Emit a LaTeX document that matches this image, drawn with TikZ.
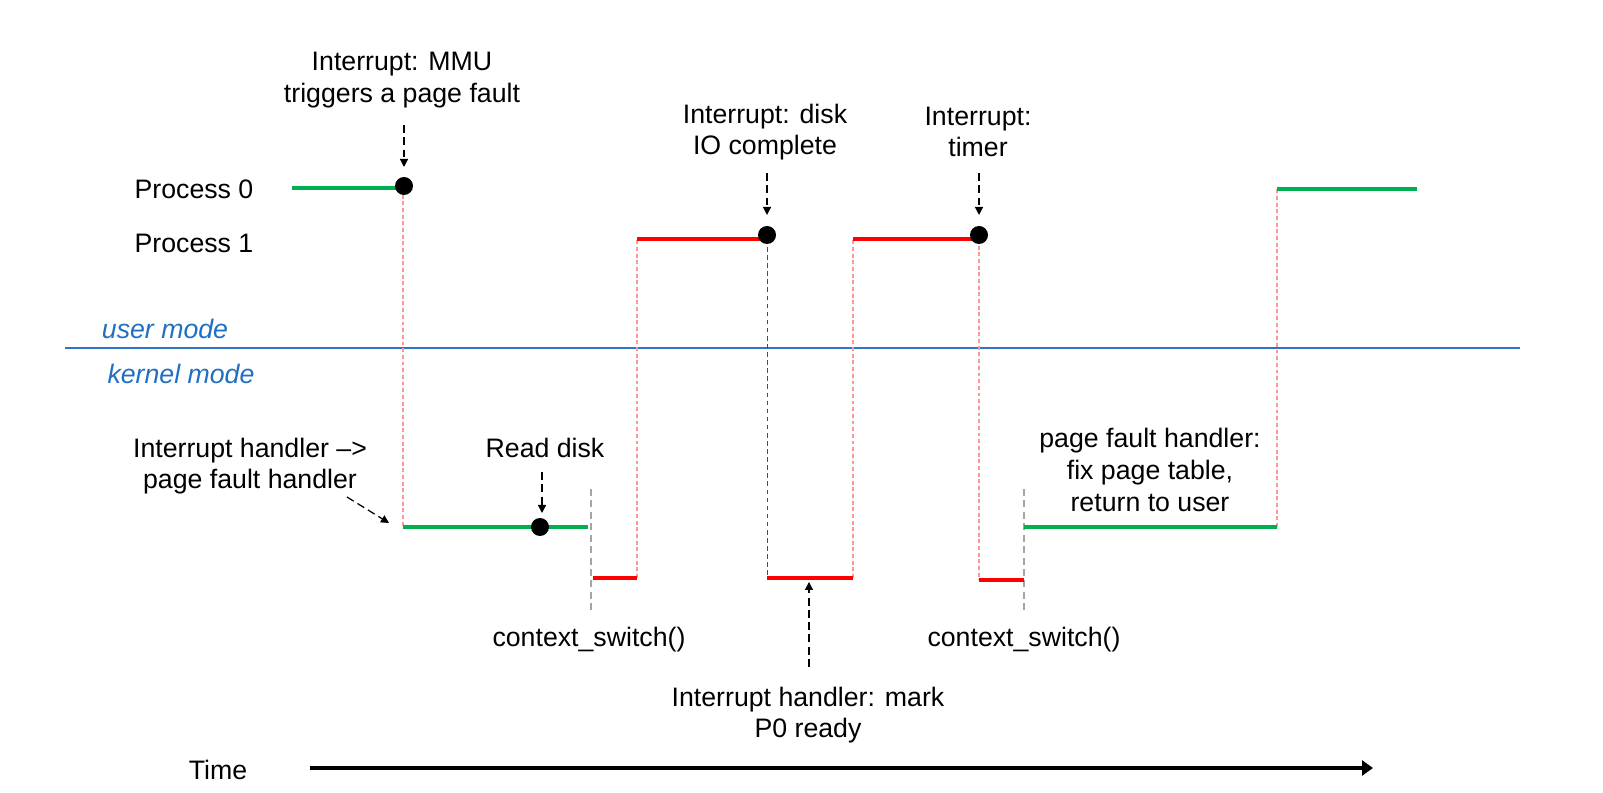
\documentclass[tikz,border=0pt]{standalone}
\usepackage{fontspec}
\setmainfont{Liberation Sans}
\usetikzlibrary{arrows.meta}
\definecolor{pgreen}{RGB}{0,176,80}
\definecolor{pred}{RGB}{255,0,0}
\definecolor{ppink}{RGB}{255,150,150}
\definecolor{pblue}{RGB}{46,117,200}
\definecolor{tblue}{RGB}{31,112,193}
\definecolor{pgrey}{RGB}{165,165,165}
\tikzset{
  lbl/.style={align=center,font=\fontsize{15.2}{18}\selectfont,inner sep=0pt},
  modelbl/.style={font=\fontsize{15.2}{18}\selectfont\itshape,text=tblue,inner sep=0pt},
  runline/.style={line width=2.3pt},
  pinkdash/.style={draw=ppink,line width=0.6pt,dash pattern=on 2.2pt off 1.6pt},
  reddash/.style={draw=pred,line width=0.5pt,dash pattern=on 2.6pt off 2pt},
  greydash/.style={draw=pgrey,line width=0.6pt,dash pattern=on 4pt off 2.5pt},
  callarrow/.style={line width=0.7pt,dash pattern=on 4.5pt off 2.5pt,-{Triangle[length=0.16cm,width=0.16cm]}},
  dot/.style={circle,fill=black,inner sep=0pt,minimum size=0.36cm},
}
\begin{document}
\begin{tikzpicture}[x=0.02cm,y=-0.02cm]
\useasboundingbox (0,0) rectangle (1603,793);
% coordinates of the timeline
\coordinate (a0) at (292,188);
\coordinate (a1) at (403,188);
\coordinate (b0) at (403,527);
\coordinate (b1) at (588,527);
\coordinate (c0) at (593,578);
\coordinate (c1) at (637,578);
\coordinate (d0) at (637,239);
\coordinate (d1) at (767,239);
\coordinate (e0) at (767,578);
\coordinate (e1) at (853,578);
\coordinate (f0) at (853,239);
\coordinate (f1) at (979,239);
\coordinate (g0) at (979,580);
\coordinate (g1) at (1024,580);
\coordinate (h0) at (1024,527);
\coordinate (h1) at (1277,527);
\coordinate (i0) at (1277,189);
\coordinate (i1) at (1417,189);
\coordinate (cs1t) at (591,489);
\coordinate (cs1b) at (591,613);
\coordinate (cs2t) at (1024,489);
\coordinate (cs2b) at (1024,613);
\coordinate (ul) at (65,348);
\coordinate (ur) at (1520,348);

% mode separator
\draw[pblue,line width=1.1pt] (ul) -- (ur);
\node[modelbl] (user) at (165,329) {user mode};
\node[modelbl] (kern) at (181,374) {kernel mode};

% transitions
\draw[pinkdash] (a1) -- (b0);
\draw[pinkdash] (c1) -- (d0);
\draw[reddash] (d1) -- (e0);
\draw[pinkdash] (e1) -- (f0);
\draw[pinkdash] (f1) -- (g0);
\draw[pinkdash] (h1) -- (i0);
\draw[greydash] (cs1t) -- (cs1b);
\draw[greydash] (cs2t) -- (cs2b);

% running segments
\draw[runline,pgreen] (a0) -- (a1);
\draw[runline,pgreen] (b0) -- (b1);
\draw[runline,pred] (c0) -- (c1);
\draw[runline,pred] (d0) -- (d1);
\draw[runline,pred] (e0) -- (e1);
\draw[runline,pred] (f0) -- (f1);
\draw[runline,pred] (g0) -- (g1);
\draw[runline,pgreen] (h0) -- (h1);
\draw[runline,pgreen] (i0) -- (i1);

% events
\node[dot] (mmu) at (404,186) {};
\node[dot] (disk) at (767,235) {};
\node[dot] (timer) at (979,235) {};
\node[dot] (rd) at (540,527) {};

% labels
\node[lbl] (p0) at (194,189) {Process 0};
\node[lbl] (p1) at (194,243) {Process 1};
\node[lbl] (tmmu) at (402,80) {Interrupt: MMU\\triggers a page fault};
\node[lbl] (tdisk) at (765,132) {Interrupt: disk\\IO complete};
\node[lbl] (ttimer) at (978,132) {Interrupt:\\timer};
\node[lbl] (trd) at (545,448) {Read disk};
\node[lbl] (thand) at (250,466) {Interrupt handler –>\\page fault handler};
\node[lbl] (tpfh) at (1150,470) {page fault handler:\\fix page table,\\return to user};
\node[lbl] (tcs1) at (589,640) {context\_switch()};
\node[lbl] (tcs2) at (1024,640) {context\_switch()};
\node[lbl] (tmark) at (808,715) {Interrupt handler: mark\\P0 ready};
\node[lbl] (ttime) at (218,770) {Time};

% call-out arrows
\coordinate (m0) at (404,125);
\coordinate (m1) at (404,167);
\draw[callarrow] (m0) -- (m1);
\coordinate (k0) at (767,173);
\coordinate (k1) at (767,215);
\draw[callarrow] (k0) -- (k1);
\coordinate (t0) at (979,173);
\coordinate (t1) at (979,215);
\draw[callarrow] (t0) -- (t1);
\coordinate (r0) at (542,472);
\coordinate (r1) at (542,513);
\draw[callarrow] (r0) -- (r1);
\coordinate (h2) at (347,497);
\coordinate (h3) at (389,523);
\draw[callarrow] (h2) -- (h3);
\coordinate (q0) at (809,667);
\coordinate (q1) at (809,582);
\draw[callarrow] (q0) -- (q1);

% time axis
\coordinate (ta) at (310,768);
\coordinate (tb) at (1373,768);
\draw[line width=2.8pt,-{Triangle[length=0.22cm,width=0.3cm]}] (ta) -- (tb);
\end{tikzpicture}
\end{document}
